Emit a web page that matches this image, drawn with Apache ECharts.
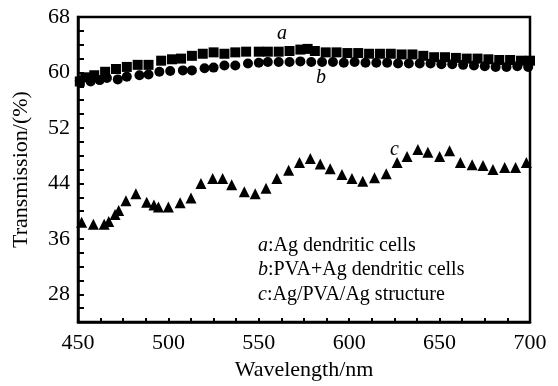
<!DOCTYPE html>
<html>
<head>
<meta charset="utf-8">
<script src="https://cdn.jsdelivr.net/npm/echarts@6/dist/echarts.min.js"></script>
<style>
  html, body { margin: 0; padding: 0; background: #fff; }
  #chart { width: 558px; height: 386px; }
</style>
</head>
<body>
<div id="chart"></div>
<script>
// a: Ag dendritic cells (squares)
const waveA = [451, 454, 459, 465, 471, 477, 483, 489, 496, 502, 507, 513, 519, 525, 531, 537, 543, 550, 555, 561, 567, 573, 577, 581, 587, 593, 599, 605, 611, 617, 623, 629, 635, 641, 647, 653, 659, 665, 671, 677, 683, 689, 695, 700];
const transA = [58.7, 59.3, 59.6, 60.1, 60.5, 60.8, 61.1, 61.1, 61.7, 61.9, 62.0, 62.4, 62.7, 62.9, 62.7, 62.9, 63.0, 63.0, 63.0, 63.0, 63.1, 63.3, 63.4, 63.1, 62.9, 62.9, 62.8, 62.8, 62.7, 62.7, 62.7, 62.6, 62.6, 62.4, 62.2, 62.2, 62.1, 62.0, 62.0, 61.9, 61.8, 61.8, 61.7, 61.7];

// b: PVA+Ag dendritic cells (circles)
const waveB = [451, 457, 462, 466, 472, 477, 484, 489, 495, 501, 508, 513, 520, 525, 531, 537, 544, 550, 555, 561, 567, 573, 579, 585, 591, 597, 603, 609, 615, 621, 627, 633, 639, 645, 651, 657, 663, 669, 675, 681, 687, 693, 699];
const transB = [58.8, 58.7, 58.9, 59.2, 59.0, 59.4, 59.6, 59.7, 60.1, 60.2, 60.3, 60.3, 60.6, 60.7, 61.0, 61.0, 61.3, 61.4, 61.5, 61.5, 61.5, 61.6, 61.5, 61.5, 61.5, 61.4, 61.5, 61.4, 61.4, 61.4, 61.3, 61.3, 61.3, 61.3, 61.2, 61.2, 61.1, 61.0, 60.9, 60.8, 60.8, 60.9, 60.8];

// c: Ag/PVA/Ag structure (triangles)
const waveC = [452, 458.5, 464.5, 467, 470.5, 472.5, 476.5, 482, 488, 492, 494.5, 500, 506.5, 512.5, 518, 524.5, 530, 535, 542, 548, 554, 560, 566.5, 572.5, 578.5, 584, 589.5, 596, 601.5, 607.5, 614, 620.5, 626.5, 632, 638, 643.5, 650, 655.5, 661.5, 668, 674, 679.5, 686, 692, 698];
const transC = [38.4, 38.1, 38.1, 38.5, 39.5, 40.1, 41.5, 42.5, 41.3, 40.9, 40.6, 40.6, 41.2, 41.9, 44.0, 44.7, 44.7, 43.8, 42.8, 42.5, 43.3, 44.7, 45.9, 47.0, 47.6, 46.8, 46.1, 45.3, 44.7, 44.3, 44.8, 45.4, 47.0, 47.9, 48.9, 48.5, 47.9, 48.7, 47.0, 46.7, 46.6, 46.0, 46.3, 46.3, 47.0];

const xTickLabels = [450, 500, 550, 600, 650, 700];
const yTickLabels = [28, 36, 44, 52, 60, 68];

const pairs = (xs, ys) => xs.map((x, i) => [x, ys[i]]);
const font = 'Liberation Serif';

const chart = echarts.init(document.getElementById('chart'));
chart.setOption({
    animation: false,
    backgroundColor: '#fff',
    grid: {
        left: 78, right: 28, top: 17, bottom: 56,
        show: true,
        borderColor: '#000',
        borderWidth: 2.5
    },
    xAxis: {
        type: 'value',
        min: 450, max: 700, interval: 12.5,
        name: 'Wavelength/nm',
        nameLocation: 'middle',
        nameGap: 32,
        nameTextStyle: { fontFamily: font, fontSize: 22, color: '#000' },
        axisLine: { lineStyle: { color: '#000', width: 2.5 } },
        axisTick: { inside: true, length: 4, lineStyle: { color: '#000', width: 2 } },
        axisLabel: {
            fontFamily: font, fontSize: 22, color: '#000', margin: 10,
            formatter: v => xTickLabels.indexOf(v) >= 0 ? String(v) : ''
        },
        splitLine: { show: false }
    },
    yAxis: {
        type: 'value',
        min: 24, max: 68, interval: 2,
        name: 'Transmission/(%)',
        nameLocation: 'middle',
        nameGap: 46,
        nameTextStyle: { fontFamily: font, fontSize: 22, color: '#000' },
        axisLine: { lineStyle: { color: '#000', width: 2.5 } },
        axisTick: { inside: true, length: 6, lineStyle: { color: '#000', width: 2 } },
        axisLabel: {
            fontFamily: font, fontSize: 22, color: '#000', margin: 8,
            formatter: v => yTickLabels.indexOf(v) >= 0 ? String(v) : ''
        },
        splitLine: { show: false }
    },
    series: [
        {
            name: 'a', type: 'scatter', data: pairs(waveA, transA),
            symbol: 'rect', symbolSize: 10,
            itemStyle: { color: '#000', opacity: 1 }
        },
        {
            name: 'b', type: 'scatter', data: pairs(waveB, transB),
            symbol: 'circle', symbolSize: 10,
            itemStyle: { color: '#000', opacity: 1 }
        },
        {
            name: 'c', type: 'scatter', data: pairs(waveC, transC),
            symbol: 'triangle', symbolSize: 11,
            itemStyle: { color: '#000', opacity: 1 }
        }
    ],
    graphic: [
        { type: 'text', left: 277, top: 24, style: { text: 'a', font: 'italic 20px "Liberation Serif"', fill: '#000' } },
        { type: 'text', left: 316, top: 68, style: { text: 'b', font: 'italic 20px "Liberation Serif"', fill: '#000' } },
        { type: 'text', left: 390, top: 140, style: { text: 'c', font: 'italic 20px "Liberation Serif"', fill: '#000' } },
        {
            type: 'text', left: 258, top: 233,
            style: {
                text: '{i|a}:Ag dendritic cells\n{i|b}:PVA+Ag dendritic cells\n{i|c}:Ag/PVA/Ag structure',
                font: '20px "Liberation Serif"',
                lineHeight: 24.5,
                fill: '#000',
                rich: { i: { fontStyle: 'italic', fontFamily: font, fontSize: 20, fill: '#000', lineHeight: 24.5 } }
            }
        }
    ]
});
</script>
</body>
</html>
